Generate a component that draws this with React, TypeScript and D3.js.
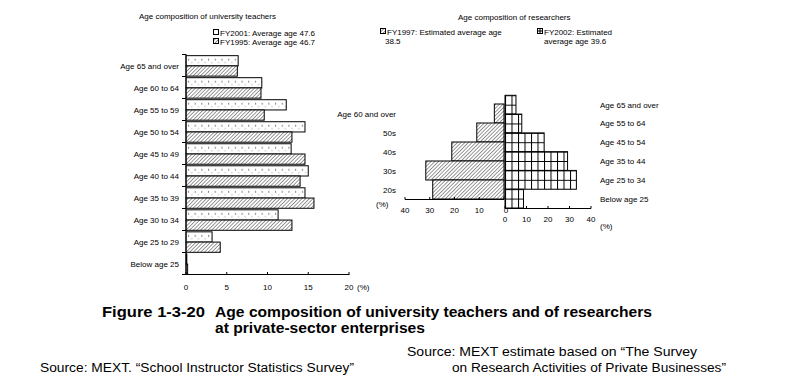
import React from "react";
import * as d3 from "d3";

// ---------- Data ----------
const teacherAges = [
  "Age 65 and over",
  "Age 60 to 64",
  "Age 55 to 59",
  "Age 50 to 54",
  "Age 45 to 49",
  "Age 40 to 44",
  "Age 35 to 39",
  "Age 30 to 34",
  "Age 25 to 29",
  "Below age 25",
];
const teachersFY2001 = [6.4, 9.3, 12.3, 14.6, 12.9, 15.0, 14.6, 11.3, 3.2, 0.1];
const teachersFY1995 = [6.3, 9.2, 9.6, 13.0, 14.6, 14.0, 15.7, 13.0, 4.2, 0.2];
const teacherTicks = [0, 5, 10, 15, 20];

const researcherAges1997 = ["Age 60 and over", "50s", "40s", "30s", "20s"];
const researchersFY1997 = [3.9, 11.0, 21.1, 31.6, 28.8];
const researcherAges2002 = [
  "Age 65 and over",
  "Age 55 to 64",
  "Age 45 to 54",
  "Age 35 to 44",
  "Age 25 to 34",
  "Below age 25",
];
const researchersFY2002 = [5.1, 7.8, 18.2, 29.1, 33.2, 8.6];
const researcherTicks = [0, 10, 20, 30, 40];

const FONT = "'Liberation Sans', Arial, sans-serif";

export default function App() {
  // Left chart scales
  const xT = d3.scaleLinear().domain([0, 20]).range([186, 349]);
  const yT = d3
    .scaleBand<string>()
    .domain(teacherAges)
    .range([55, 275])
    .paddingInner(0.07)
    .paddingOuter(0.03);
  const half = yT.bandwidth() / 2;
  const stepT = yT.step();

  // Right chart scales
  const xL = d3.scaleLinear().domain([0, 40]).range([504, 405]);
  const xR = d3.scaleLinear().domain([0, 40]).range([505, 591]);
  const yL = d3.scaleBand<string>().domain(researcherAges1997).range([104, 199]);
  const yR = d3.scaleBand<string>().domain(researcherAges2002).range([95.3, 208]);

  const small = { fontFamily: FONT, fontSize: 8, fill: "#000" } as const;

  return (
    <svg
      width={800}
      height={392}
      style={{ position: "absolute", left: 0, top: 0, background: "#fff" }}
    >
      <defs>
        <pattern id="hatch" patternUnits="userSpaceOnUse" width={2.6} height={2.6} patternTransform="rotate(45)">
          <rect width={2.6} height={2.6} fill="#fff" />
          <line x1={0} y1={0} x2={0} y2={2.6} stroke="#000" strokeWidth={0.8} />
        </pattern>
        <pattern id="dots" patternUnits="userSpaceOnUse" x={186} y={yT(teacherAges[0])} width={6.7} height={stepT}>
          <rect width={6.7} height={stepT} fill="#fff" />
          <rect x={2} y={3.5} width={1} height={1} fill="#000" />
          <rect x={5.3} y={6.5} width={0.8} height={0.8} fill="#555" />
        </pattern>
        <pattern id="grid" patternUnits="userSpaceOnUse" x={505} y={yR.range()[0]} width={6.5} height={yR.step() / 2}>
          <rect width={6.5} height={yR.step() / 2} fill="#fff" />
          <path d={`M0.5,0V${yR.step() / 2}M0,0.5H6.5`} stroke="#000" strokeWidth={1} fill="none" />
        </pattern>
      </defs>

      {/* ---------- Left chart: university teachers ---------- */}
      <text x={139} y={19} style={small}>Age composition of university teachers</text>
      <rect x={213.5} y={29.5} width={5} height={5} fill="#fff" stroke="#000" />
      <text x={220} y={36} style={small}>FY2001: Average age 47.6</text>
      <rect x={213.5} y={38.5} width={5} height={5} fill="url(#hatch)" stroke="#000" />
      <text x={220} y={45} style={small}>FY1995: Average age 46.7</text>

      {teacherAges.map((a, i) => (
        <g key={a}>
          <rect
            x={xT(0)}
            y={yT(a)!}
            width={xT(teachersFY2001[i]) - xT(0)}
            height={half}
            fill="url(#dots)"
            stroke="#000"
            strokeWidth={1}
          />
          <rect
            x={xT(0)}
            y={yT(a)! + half}
            width={xT(teachersFY1995[i]) - xT(0)}
            height={half}
            fill="url(#hatch)"
            stroke="#000"
            strokeWidth={1}
          />
          <text
            x={179}
            y={yT(a)! + yT.bandwidth() / 2 + 3}
            textAnchor="end"
            style={small}
          >
            {a}
          </text>
        </g>
      ))}
      {/* y axis */}
      <line x1={186} x2={186} y1={54} y2={274.5} stroke="#000" />
      {d3.range(teacherAges.length + 1).map((k) => {
        const y = Math.round(yT.range()[0] + k * stepT - stepT * 0.035) + 0.5;
        return <line key={k} x1={182} x2={186} y1={y} y2={y} stroke="#000" />;
      })}
      {/* x axis */}
      <line x1={185.5} x2={349.5} y1={274.5} y2={274.5} stroke="#000" />
      {teacherTicks.map((t) => (
        <g key={t}>
          <line x1={xT(t)} x2={xT(t)} y1={272} y2={274.5} stroke="#000" />
          <text x={xT(t)} y={290} textAnchor="middle" style={small}>{t}</text>
        </g>
      ))}
      <text x={357} y={290} style={small}>(%)</text>

      {/* ---------- Right chart: researchers ---------- */}
      <text x={458} y={20} style={small}>Age composition of researchers</text>
      <rect x={380.5} y={28.5} width={5} height={5} fill="url(#hatch)" stroke="#000" />
      <text x={387} y={35} style={small}>FY1997: Estimated average age</text>
      <text x={385} y={44} style={small}>38.5</text>
      <rect x={537.5} y={28.5} width={5} height={5} fill="#fff" stroke="#000" />
      <line x1={540} x2={540} y1={28.5} y2={33.5} stroke="#000" />
      <line x1={537.5} x2={542.5} y1={31} y2={31} stroke="#000" />
      <text x={544} y={35} style={small}>FY2002: Estimated</text>
      <text x={544} y={44} style={small}>average age 39.6</text>

      {researcherAges1997.map((a, i) => (
        <g key={a}>
          <rect
            x={xL(researchersFY1997[i])}
            y={yL(a)!}
            width={xL(0) - xL(researchersFY1997[i])}
            height={yL.bandwidth()}
            fill="url(#hatch)"
            stroke="#000"
          />
          <text x={396} y={yL(a)! + yL.bandwidth() / 2 + 3} textAnchor="end" style={small}>{a}</text>
        </g>
      ))}
      {researcherAges2002.map((a, i) => (
        <g key={a}>
          <rect
            x={xR(0)}
            y={yR(a)!}
            width={xR(researchersFY2002[i]) - xR(0)}
            height={yR.bandwidth()}
            fill="url(#grid)"
            stroke="#000"
          />
          <text x={600} y={yR(a)! + yR.bandwidth() / 2 + 3} style={small}>{a}</text>
        </g>
      ))}
      {/* left axis (FY1997) */}
      <line x1={405} x2={504} y1={199.5} y2={199.5} stroke="#000" />
      {researcherTicks.map((t) => (
        <g key={"l" + t}>
          <line x1={xL(t)} x2={xL(t)} y1={197} y2={199.5} stroke="#000" />
          <text x={xL(t) + (t === 0 ? 2 : 0)} y={213} textAnchor="middle" style={small}>{t}</text>
        </g>
      ))}
      <text x={376} y={207} style={small}>(%)</text>
      {/* right axis (FY2002) */}
      <line x1={505} x2={591} y1={208.5} y2={208.5} stroke="#000" />
      {researcherTicks.map((t) => (
        <g key={"r" + t}>
          <line x1={xR(t)} x2={xR(t)} y1={206} y2={208.5} stroke="#000" />
          <text x={xR(t)} y={222} textAnchor="middle" style={small}>{t}</text>
        </g>
      ))}
      <text x={600} y={229} style={small}>(%)</text>

      {/* ---------- Captions ---------- */}
      <g style={{ fontFamily: FONT, fontWeight: "bold", fontSize: 15 }}>
        <text x={102} y={317} textLength={103} lengthAdjust="spacingAndGlyphs">Figure 1-3-20</text>
        <text x={215} y={317} textLength={437} lengthAdjust="spacingAndGlyphs">
          Age composition of university teachers and of researchers
        </text>
        <text x={215} y={333} textLength={210} lengthAdjust="spacingAndGlyphs">at private-sector enterprises</text>
      </g>
      <g style={{ fontFamily: FONT, fontSize: 12 }}>
        <text x={40} y={372} textLength={314} lengthAdjust="spacingAndGlyphs">
          Source: MEXT.  “School Instructor Statistics Survey”
        </text>
        <text x={407} y={356} textLength={290} lengthAdjust="spacingAndGlyphs">
          Source: MEXT estimate based on  “The Survey
        </text>
        <text x={452} y={372} textLength={274} lengthAdjust="spacingAndGlyphs">
          on Research Activities of Private Businesses”
        </text>
      </g>
    </svg>
  );
}
